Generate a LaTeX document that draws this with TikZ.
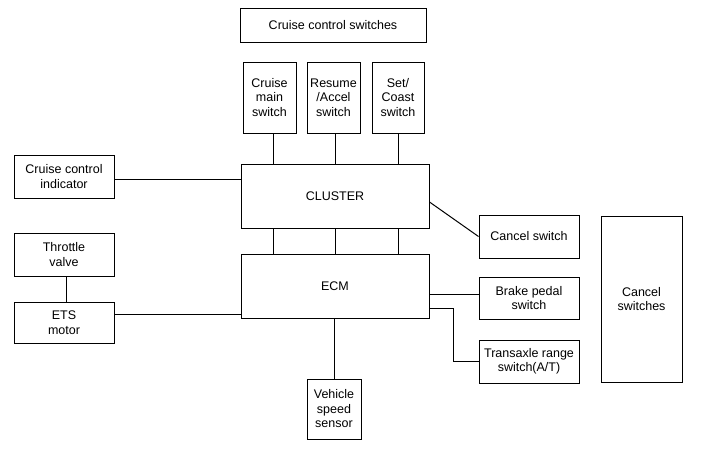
\documentclass[tikz,border=0pt]{standalone}
\usepackage{fontspec}
\setmainfont{Liberation Sans}
\begin{document}
\begin{tikzpicture}[x=1pt,y=-1pt,
  box/.style={draw, line width=1pt, inner sep=0pt, align=center, font=\fontsize{12.5}{14.5}\selectfont},
  wire/.style={line width=1pt}]
\useasboundingbox[fill=white] (0,0) rectangle (701,451);
\node[box, minimum width=186, minimum height=34] (ccs) at (333,25) {Cruise control switches};
\node[box, minimum width=53, minimum height=71] (cms) at (269.5,97.5) {Cruise\\main\\switch};
\node[box, minimum width=53, minimum height=71] (ras) at (333.5,97.5) {Resume\\/Accel\\switch};
\node[box, minimum width=52, minimum height=71] (scs) at (398,97.5) {Set/\\Coast\\switch};
\node[box, minimum width=188, minimum height=64] (cluster) at (335,196) {CLUSTER};
\node[box, minimum width=188, minimum height=64] (ecm) at (335,286) {ECM};
\node[box, minimum width=100, minimum height=43] (cci) at (64,176.5) {Cruise control\\indicator};
\node[box, minimum width=100, minimum height=43] (tv) at (64,254.5) {Throttle\\valve};
\node[box, minimum width=100, minimum height=41] (ets) at (64,322.5) {ETS\\motor};
\node[box, minimum width=100, minimum height=43] (cs) at (529,236.5) {Cancel switch};
\node[box, minimum width=100, minimum height=42] (bps) at (529,298) {Brake pedal\\switch};
\node[box, minimum width=100, minimum height=43] (tr) at (529,361.5) {Transaxle range\\switch(A/T)};
\node[box, minimum width=81, minimum height=166] (css) at (641.5,299) {Cancel\\switches};
\node[box, minimum width=54, minimum height=60] (vss) at (334,409) {Vehicle\\speed\\sensor};
\coordinate (x1) at (273,0);
\coordinate (x2) at (335,0);
\coordinate (x3) at (398,0);
\coordinate (yc) at (0,179);
\coordinate (ye) at (0,314);
\coordinate (ycs) at (0,202);
\coordinate (yb) at (0,294);
\coordinate (yt) at (0,308);
\coordinate (bend) at (453,308);
\coordinate (xv) at (334,0);
\coordinate (xt) at (66,0);
\draw[wire] (cms.south -| x1) -- (cluster.north -| x1);
\draw[wire] (ras.south -| x2) -- (cluster.north -| x2);
\draw[wire] (scs.south -| x3) -- (cluster.north -| x3);
\draw[wire] (cluster.south -| x1) -- (ecm.north -| x1);
\draw[wire] (cluster.south -| x2) -- (ecm.north -| x2);
\draw[wire] (cluster.south -| x3) -- (ecm.north -| x3);
\draw[wire] (cci.east |- yc) -- (cluster.west |- yc);
\draw[wire] (tv.south -| xt) -- (ets.north -| xt);
\draw[wire] (ets.east |- ye) -- (ecm.west |- ye);
\draw[wire] (cluster.east |- ycs) -- (cs.west);
\draw[wire] (ecm.east |- yb) -- (bps.west |- yb);
\draw[wire] (ecm.east |- yt) -- (bend) |- (tr.west);
\draw[wire] (ecm.south -| xv) -- (vss.north -| xv);
\end{tikzpicture}
\end{document}
